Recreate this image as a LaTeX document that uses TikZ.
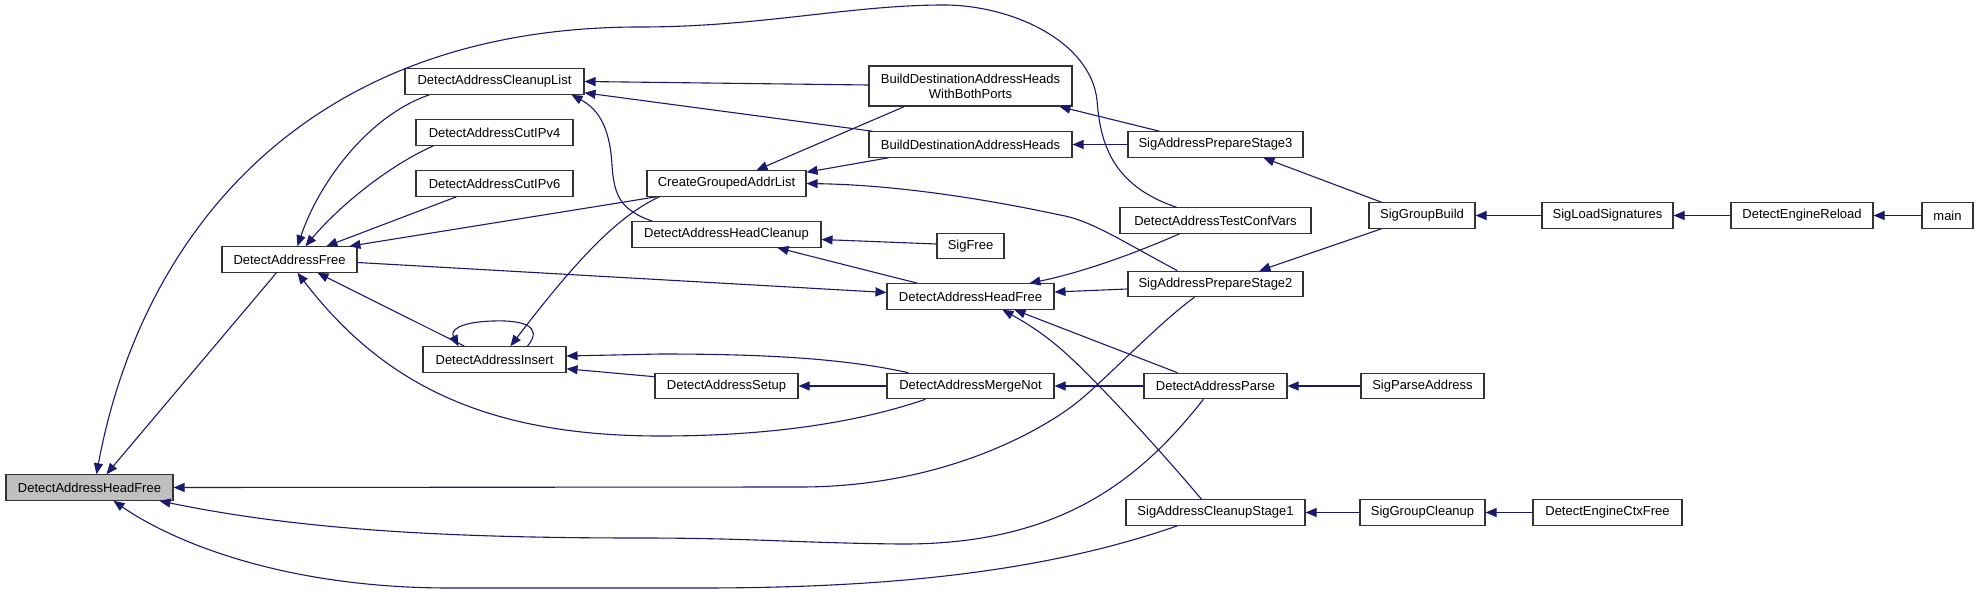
\documentclass[tikz,border=0pt]{standalone}
\usepackage{fontspec}
\setmainfont{Liberation Sans}
\usetikzlibrary{arrows.meta,calc}
\definecolor{edgecol}{HTML}{191970}
\definecolor{boxgray}{HTML}{BFBFBF}
\begin{document}
\begin{tikzpicture}[x=1pt,y=-1pt,
 box/.style={draw=black!80, line width=1.1pt, fill=white, minimum height=25.5pt, inner sep=0pt, font=\fontsize{13}{15}\selectfont, text=black},
 edge/.style={draw=edgecol, line width=1.1pt, -{Triangle[length=11pt,width=9pt]}}]
\fill[white] (0,0) rectangle (1979,594);
\useasboundingbox (0,0) rectangle (1979,594);
% nodes
\node[box, fill=boxgray, minimum width=167pt] (hf) at (89.5,487.5) {DetectAddressHeadFree};
\node[box, minimum width=135pt] (daf) at (289.5,259.5) {DetectAddressFree};
\node[box, minimum width=179pt] (cl) at (494.5,81.5) {DetectAddressCleanupList};
\node[box, minimum width=157pt] (c4) at (494.5,132.5) {DetectAddressCutIPv4};
\node[box, minimum width=157pt] (c6) at (494.5,183.5) {DetectAddressCutIPv6};
\node[box, minimum width=143pt] (ins) at (494.5,359.5) {DetectAddressInsert};
\node[box, minimum width=159pt] (cgal) at (726.5,183.5) {CreateGroupedAddrList};
\node[box, minimum width=189pt] (hc) at (726.5,234.5) {DetectAddressHeadCleanup};
\node[box, minimum width=143pt] (setup) at (726.5,386) {DetectAddressSetup};
\node[box, minimum width=203pt, minimum height=40pt, align=center] (bdwbp) at (970.5,86) {BuildDestinationAddressHeads\\WithBothPorts};
\node[box, minimum width=203pt] (bd) at (970.5,144.5) {BuildDestinationAddressHeads};
\node[box, minimum width=67pt] (sigfree) at (970.5,246) {SigFree};
\node[box, minimum width=167pt] (hf2) at (970.5,296.5) {DetectAddressHeadFree};
\node[box, minimum width=167pt] (mn) at (970.5,386) {DetectAddressMergeNot};
\node[box, minimum width=175pt] (s3) at (1215.5,144.5) {SigAddressPrepareStage3};
\node[box, minimum width=191pt] (tcv) at (1215.5,220.5) {DetectAddressTestConfVars};
\node[box, minimum width=175pt] (s2) at (1215.5,284) {SigAddressPrepareStage2};
\node[box, minimum width=143pt] (parse) at (1215.5,386) {DetectAddressParse};
\node[box, minimum width=179pt] (s1) at (1215.5,512.5) {SigAddressCleanupStage1};
\node[box, minimum width=106pt] (sgb) at (1422,215.5) {SigGroupBuild};
\node[box, minimum width=123pt] (spa) at (1422.5,386) {SigParseAddress};
\node[box, minimum width=125pt] (sgc) at (1422.5,512.5) {SigGroupCleanup};
\node[box, minimum width=131pt] (sls) at (1607.5,215.5) {SigLoadSignatures};
\node[box, minimum width=149pt] (decf) at (1607.5,512.5) {DetectEngineCtxFree};
\node[box, minimum width=142pt] (der) at (1802,215.5) {DetectEngineReload};
\node[box, minimum width=51pt] (main) at (1947.5,215.5) {main};
% edges into gray DetectAddressHeadFree
\draw[edge] ($(daf.south west)+(55,0)$) -- ($(hf.north west)+(101,0)$);
\draw[edge] ($(tcv.north west)+(57,0)$) .. controls (1110,185) and (1100,140) .. (1097,100)
  .. controls (1090,40) and (1010,5) .. (944,5)
  .. controls (850,5) and (760,27) .. (640,27)
  .. controls (300,27) and (140,240) .. ($(hf.north west)+(91,0)$);
\draw[edge] ($(s2.south west)+(67,0)$) .. controls (1160,322) and (1110,375) .. (1080,400)
  .. controls (1050,425) and (950,487) .. (800,487) -- (hf.east);
\draw[edge] ($(parse.south west)+(60,0)$) .. controls (1140,480) and (1060,545) .. (900,544)
  .. controls (800,543) and (750,538) .. (640,538)
  .. controls (450,538) and (300,530) .. ($(hf.south west)+(154,0)$);
\draw[edge] ($(s1.south west)+(52,0)$) .. controls (1050,570) and (900,588) .. (700,588) -- (450,588)
  .. controls (280,588) and (170,540) .. ($(hf.south west)+(108,0)$);
% edges into DetectAddressFree
\draw[edge] ($(cl.south west)+(25,0)$) .. controls (370,115) and (320,180) .. ($(daf.north west)+(76,0)$);
\draw[edge] ($(c4.south west)+(18,0)$) .. controls (390,165) and (340,205) .. ($(daf.north west)+(84,0)$);
\draw[edge] ($(c6.south west)+(41,0)$) -- ($(daf.north west)+(105,0)$);
\draw[edge] ($(cgal.south west)+(10,0)$) -- ($(daf.north west)+(128,0)$);
\draw[edge] ($(ins.north west)+(42,0)$) -- ($(daf.south west)+(96,0)$);
\draw[edge] ($(mn.south west)+(39,0)$) .. controls (850,425) and (760,436) .. (660,436)
  .. controls (480,436) and (380,380) .. ($(daf.south west)+(76,0)$);
% DetectAddressFree -> second DetectAddressHeadFree
\draw[edge] ($(daf.east)+(0,3)$) -- ($(hf2.west)+(0,-4)$);
% edges into DetectAddressCleanupList
\draw[edge] ($(bdwbp.west)+(0,-1)$) -- (cl.east);
\draw[edge] ($(bd.north west)+(4,0)$) -- ($(cl.south east)+(0,-2)$);
\draw[edge] ($(hc.north west)+(21,0)$) .. controls (620,210) and (614,195) .. (612,165)
  .. controls (610,130) and (600,110) .. ($(cl.south west)+(167,0)$);
% edges into CreateGroupedAddrList
\draw[edge] ($(bdwbp.south west)+(36,0)$) -- ($(cgal.north west)+(110,0)$);
\draw[edge] ($(bd.south west)+(20,0)$) -- ($(cgal.north east)+(0,2)$);
\draw[edge] ($(s2.north west)+(50,0)$) .. controls (1120,240) and (1090,220) .. (1060,215)
  .. controls (990,200) and (900,185) .. (cgal.east);
% edges into DetectAddressInsert
\draw[edge] ($(cgal.south west)+(13,0)$) .. controls (620,215) and (580,255) .. ($(ins.north west)+(88,0)$);
\draw[edge] ($(ins.north west)+(105,0)$) .. controls (545,325) and (520,320) .. (493,321)
  .. controls (460,322) and (450,330) .. ($(ins.north west)+(36,0)$);
\draw[edge] ($(mn.north west)+(22,0)$) .. controls (850,360) and (780,354) .. (660,354) -- ($(ins.east)+(0,-3.5)$);
\draw[edge] ($(setup.north west)+(0,4)$) -- ($(ins.south east)+(0,-4)$);
% edges into DetectAddressHeadCleanup
\draw[edge] ($(sigfree.west)+(0,-2)$) -- ($(hc.east)+(0,5)$);
\draw[edge] ($(hf2.north west)+(31,0)$) -- ($(hc.south west)+(146,0)$);
% edges into DetectAddressSetup
\draw[edge] (mn.west) -- (setup.east);
% edges into BuildDestination...
\draw[edge] (s3.west) -- (bd.east);
\draw[edge] ($(s3.north west)+(32,0)$) -- ($(bdwbp.south west)+(191,0)$);
% edges into second DetectAddressHeadFree
\draw[edge] ($(tcv.south west)+(60,0)$) .. controls (1120,260) and (1070,275) .. ($(hf2.north west)+(143,0)$);
\draw[edge] ($(s2.west)+(0,5)$) -- ($(hf2.east)+(0,-4.5)$);
\draw[edge] ($(parse.north west)+(34,0)$) -- ($(hf2.south west)+(128,0)$);
\draw[edge] ($(s1.north west)+(76,0)$) .. controls (1160,450) and (1100,385) .. (1073,360)
  .. controls (1050,338) and (1030,325) .. ($(hf2.south west)+(116,0)$);
% edges into DetectAddressMergeNot
\draw[edge] (parse.west) -- (mn.east);
% edges into stage nodes
\draw[edge] ($(sgb.north west)+(13,0)$) -- ($(s3.south west)+(136,0)$);
\draw[edge] ($(sgb.south west)+(13,0)$) -- ($(s2.north west)+(132,0)$);
\draw[edge] (spa.west) -- (parse.east);
\draw[edge] (sls.west) -- (sgb.east);
\draw[edge] (der.west) -- (sls.east);
\draw[edge] (main.west) -- (der.east);
\draw[edge] (sgc.west) -- (s1.east);
\draw[edge] (decf.west) -- (sgc.east);
\end{tikzpicture}
\end{document}
